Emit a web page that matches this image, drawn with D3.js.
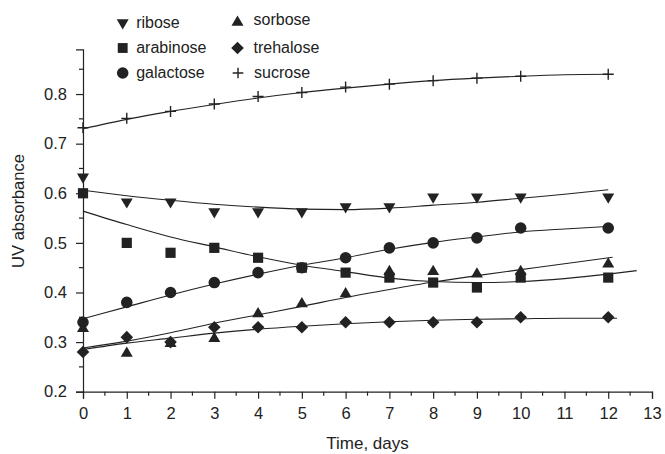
<!DOCTYPE html>
<html>
<head>
<meta charset="utf-8">
<script src="https://cdn.jsdelivr.net/npm/d3@7"></script>
<style>
  body { margin: 0; background: #fff; }
  svg text { font-family: "Liberation Sans", Arial, sans-serif; fill: #222; }
</style>
</head>
<body>
<div id="graph"></div>
<script>
// Measured points (time in days vs UV absorbance)
const days = [0, 1, 2, 3, 4, 5, 6, 7, 8, 9, 10, 12];

const ribose    = [0.63, 0.58, 0.58, 0.56, 0.56, 0.56, 0.57, 0.57, 0.59, 0.59, 0.59, 0.59];
const arabinose = [0.60, 0.50, 0.48, 0.49, 0.47, 0.45, 0.44, 0.43, 0.42, 0.41, 0.43, 0.43];
const galactose = [0.34, 0.38, 0.40, 0.42, 0.44, 0.45, 0.47, 0.49, 0.50, 0.51, 0.53, 0.53];
const sorbose   = [0.33, 0.28, 0.30, 0.31, 0.36, 0.38, 0.40, 0.445, 0.445, 0.44, 0.445, 0.46];
const trehalose = [0.28, 0.31, 0.30, 0.33, 0.33, 0.33, 0.34, 0.34, 0.34, 0.34, 0.35, 0.35];
const sucrose   = [0.732, 0.751, 0.765, 0.78, 0.795, 0.803, 0.814, 0.82, 0.827, 0.832, 0.836, 0.84];

// Fitted curves
const fitDays          = [0, 1, 2, 3, 4, 5, 6, 7, 8, 9, 10, 11, 12];
const riboseFit        = [0.606, 0.595, 0.586, 0.578, 0.572, 0.568, 0.567, 0.570, 0.576, 0.582, 0.590, 0.598, 0.607];
const galactoseFit     = [0.347, 0.371, 0.395, 0.417, 0.437, 0.455, 0.470, 0.487, 0.501, 0.512, 0.522, 0.528, 0.533];
const sucroseFit       = [0.730, 0.749, 0.765, 0.779, 0.792, 0.803, 0.812, 0.820, 0.827, 0.832, 0.836, 0.839, 0.840];
const arabinoseFitDays = [0, 1, 2, 3, 4, 5, 6, 7, 8, 9, 10, 11, 12, 12.65];
const arabinoseFit     = [0.564, 0.537, 0.512, 0.492, 0.472, 0.455, 0.442, 0.429, 0.422, 0.420, 0.422, 0.428, 0.437, 0.444];
const sorboseFitDays   = [0, 1, 2, 3, 4, 5, 6, 7, 8, 9, 10, 11, 12.1];
const sorboseFit       = [0.288, 0.302, 0.319, 0.338, 0.355, 0.372, 0.390, 0.406, 0.421, 0.434, 0.446, 0.458, 0.471];
const trehaloseFitDays = [0, 1, 2, 3, 4, 5, 6, 7, 8, 9, 10, 11, 12.2];
const trehaloseFit     = [0.285, 0.298, 0.308, 0.318, 0.326, 0.332, 0.337, 0.341, 0.344, 0.346, 0.347, 0.348, 0.348];

// Axis ticks
const xTicks = [0, 1, 2, 3, 4, 5, 6, 7, 8, 9, 10, 11, 12, 13];
const xMinor = [0.5, 1.5, 2.5, 3.5, 4.5, 5.5, 6.5, 7.5, 8.5, 9.5, 10.5, 11.5, 12.5];
const yTicks = [0.2, 0.3, 0.4, 0.5, 0.6, 0.7, 0.8];
const yMinor = [0.25, 0.35, 0.45, 0.55, 0.65, 0.75, 0.85];

const legendNames = ["ribose", "arabinose", "galactose", "sorbose", "trehalose", "sucrose"];

const width = 665, height = 454;
const ink = "#222";

const xscale = d3.scaleLinear().domain([0, 13]).range([83, 652]);
const yscale = d3.scaleLinear().domain([0.2, 0.89]).range([391.7, 49.4]);

const chart = d3.select("#graph").append("svg")
    .attr("width", width)
    .attr("height", height);

// marker shapes, s ~ half width in px
function markerPath(shape, s) {
  switch (shape) {
    case "down": return `M${-s},${-s * 0.8}L${s},${-s * 0.8}L0,${s * 0.9}Z`;
    case "up": return `M${-s},${s * 0.8}L${s},${s * 0.8}L0,${-s * 0.9}Z`;
    case "square": return `M${-s * 0.85},${-s * 0.85}h${s * 1.7}v${s * 1.7}h${-s * 1.7}Z`;
    case "diamond": return `M0,${-s}L${s},0L0,${s}L${-s},0Z`;
    case "circle": return d3.symbol().type(d3.symbolCircle).size(Math.PI * s * s)();
    case "plus": return `M${-s},0H${s}M0,${-s}V${s}`;
  }
}

const series = [
  { name: "ribose", values: ribose, shape: "down", fx: fitDays, fy: riboseFit },
  { name: "arabinose", values: arabinose, shape: "square", fx: arabinoseFitDays, fy: arabinoseFit },
  { name: "galactose", values: galactose, shape: "circle", fx: fitDays, fy: galactoseFit },
  { name: "sorbose", values: sorbose, shape: "up", fx: sorboseFitDays, fy: sorboseFit },
  { name: "trehalose", values: trehalose, shape: "diamond", fx: trehaloseFitDays, fy: trehaloseFit },
  { name: "sucrose", values: sucrose, shape: "plus", fx: fitDays, fy: sucroseFit }
];

function styleMarker(sel, shape) {
  if (shape === "plus") {
    sel.attr("fill", "none").attr("stroke", ink).attr("stroke-width", 1.4);
  } else {
    sel.attr("fill", ink).attr("stroke", "none");
  }
}

// fitted lines
const line = d3.line()
    .x(d => xscale(d[0]))
    .y(d => yscale(d[1]))
    .curve(d3.curveMonotoneX);

series.forEach(s => {
  chart.append("path")
      .datum(s.fx.map((x, i) => [x, s.fy[i]]))
      .attr("d", line)
      .attr("fill", "none")
      .attr("stroke", ink)
      .attr("stroke-width", 1.1);
});

// points
series.forEach(s => {
  const size = s.shape === "circle" ? 5.8 : (s.shape === "diamond" ? 6.3 : (s.shape === "plus" ? 5.5 : 6));
  chart.selectAll("marker-" + s.name)
      .data(days.map((d, i) => [d, s.values[i]]))
      .enter()
      .append("path")
      .attr("transform", d => "translate(" + xscale(d[0]) + "," + yscale(d[1]) + ")")
      .attr("d", markerPath(s.shape, size))
      .call(styleMarker, s.shape);
});

// Axes
const x_axis = d3.axisBottom(xscale).tickValues(xTicks).tickSize(7).tickPadding(9).tickFormat(d3.format("d"));
const y_axis = d3.axisLeft(yscale).tickValues(yTicks).tickSize(7).tickPadding(9).tickFormat(d3.format(".1f"));

const gx = chart.append("g")
    .attr("transform", "translate(0," + yscale(0.2) + ")")
    .call(x_axis);
gx.selectAll(".minor")
    .data(xMinor).enter()
    .append("line")
    .attr("x1", d => xscale(d)).attr("x2", d => xscale(d))
    .attr("y1", 0).attr("y2", 4);

const gy = chart.append("g")
    .attr("transform", "translate(" + xscale(0) + ",0)")
    .call(y_axis);
gy.selectAll(".minor")
    .data(yMinor).enter()
    .append("line")
    .attr("y1", d => yscale(d)).attr("y2", d => yscale(d))
    .attr("x1", 0).attr("x2", -4);

chart.selectAll(".domain").attr("stroke", ink).attr("stroke-width", 1.2);
chart.selectAll("g line").attr("stroke", ink).attr("stroke-width", 1.2);
chart.selectAll(".tick text").attr("font-size", "16.5px").attr("fill", ink)
    .attr("font-family", "Liberation Sans, Arial, sans-serif");

// Axis titles
chart.append("text")
    .attr("x", xscale(6.5))
    .attr("y", 449)
    .attr("text-anchor", "middle")
    .attr("font-size", "17px")
    .text("Time, days");

chart.append("text")
    .attr("transform", "translate(24,211) rotate(-90)")
    .attr("text-anchor", "middle")
    .attr("font-size", "16.5px")
    .text("UV absorbance");

// Legend
const legendPos = [
  [122.7, 24, 28.3], [122.7, 48, 53.3], [122.7, 73, 77.5],
  [237.5, 21, 25.3], [237.5, 48, 53.3], [238, 73, 78.3]
];
series.forEach((s, i) => {
  const p = legendPos[i];
  const size = s.shape === "circle" ? 5.8 : (s.shape === "diamond" ? 6.3 : (s.shape === "plus" ? 5.3 : (s.shape === "square" ? 5.8 : 6)));
  chart.append("path")
      .attr("transform", "translate(" + p[0] + "," + p[1] + ")")
      .attr("d", markerPath(s.shape, size))
      .call(styleMarker, s.shape);
  chart.append("text")
      .attr("x", p[0] + 13.5 + (i >= 3 ? 2.5 : 0))
      .attr("y", p[2])
      .attr("font-size", "16px")
      .text(legendNames[i]);
});
</script>
</body>
</html>
